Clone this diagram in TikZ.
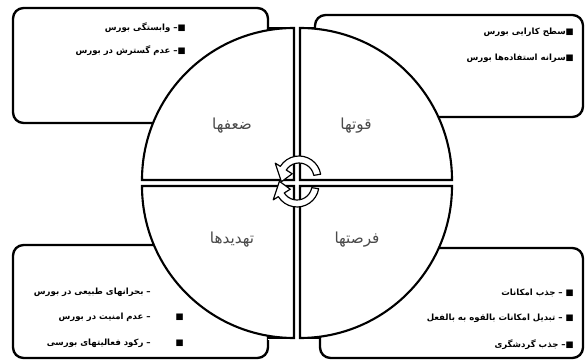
\documentclass[tikz,border=0pt]{standalone}
\usepackage{fontspec}
\usepackage{xcolor}
\TeXXeTstate=1
\newfontfamily\farsi[Script=Arabic]{DejaVu Sans}
\definecolor{labelgray}{HTML}{4a4a4a}

\begin{document}
\begin{tikzpicture}[x=0.03cm, y=0.03cm,
    box/.style={draw, line width=2pt, rounded corners=9},
    quad/.style={draw, fill=white, line width=1.8pt},
    quadlabel/.style={font=\farsi\fontsize{13}{15}\selectfont, text=labelgray, inner sep=0pt},
    item/.style={font=\farsi\bfseries\fontsize{7.3}{8}\selectfont, anchor=east, inner sep=0pt},
    cyc/.style={draw, fill=white, line width=1pt, line join=round}]
  \useasboundingbox (0,0) rectangle (585,362);

  % ---------------- the four boxes ----------------
  \draw[box] (13,239) rectangle (268,354);
  \draw[box] (315,245) rectangle (583,347);
  \draw[box] (13,4) rectangle (268,117);
  \draw[box] (320,4) rectangle (583,114);

  % white cover behind the circle
  \fill[white] (297,179) circle (155);
  \fill[white] (268,22) rectangle (318,334);
  \draw[line width=1.8pt] (268,334) -- (294,334) (300,334) -- (316,334);
  \draw[line width=1.8pt] (268,24) -- (294,24) (300,24) -- (321,24);

  % ---------------- quadrants ----------------
  \def\rq{152}
  \draw[quad] (294,182) -- ++(180:\rq) arc[start angle=180, end angle=90, radius=\rq] -- cycle;
  \draw[quad] (300,182) -- ++(0:\rq) arc[start angle=0, end angle=90, radius=\rq] -- cycle;
  \draw[quad] (294,176) -- ++(180:\rq) arc[start angle=180, end angle=270, radius=\rq] -- cycle;
  \draw[quad] (300,176) -- ++(0:\rq) arc[start angle=0, end angle=-90, radius=\rq] -- cycle;

  \node[quadlabel] (weak)   at (232,236) {\beginR ضعفها\endR};
  \node[quadlabel] (strong) at (356,236) {\beginR قوتها\endR};
  \node[quadlabel] (threat) at (232,122) {\beginR تهدیدها\endR};
  \node[quadlabel] (opport) at (357,122) {\beginR فرصتها\endR};

  % ---------------- cycle arrows ----------------
  \begin{scope}[shift={(299,184)}]
    \draw[cyc] (10:22) arc[start angle=10, end angle=148, radius=22]
      -- (148:28) -- (192:18) -- (148:8) -- (148:15)
      arc[start angle=148, end angle=10, radius=15] -- cycle;
  \end{scope}
  \begin{scope}[shift={(297,177)}]
    \draw[cyc] (-10:22) arc[start angle=-10, end angle=-148, radius=22]
      -- (-148:28) -- (-192:18) -- (-148:8) -- (-148:15)
      arc[start angle=-148, end angle=-10, radius=15] -- cycle;
  \end{scope}

  % ---------------- box texts ----------------
  \node[item] (w1) at (186,334) {\beginR ■– وابستگی بورس\endR};
  \node[item] (w2) at (186,311) {\beginR ■– عدم گسترش در بورس\endR};

  \node[item] (s1) at (574,330) {\beginR ■سطح کارایی بورس\endR};
  \node[item] (s2) at (574,304) {\beginR ■سرانه استفاده‌ها بورس\endR};

  \node[item] (t1) at (151,70) {\beginR – بحرانهای طبیعی در بورس\endR};
  \node[item] (t2) at (151,45) {\beginR – عدم امنیت در بورس\endR};
  \node[item] (t3) at (151,19) {\beginR – رکود فعالیتهای بورسی\endR};
  \node[item] (b2) at (184,45) {■};
  \node[item] (b3) at (184,19) {■};

  \node[item] (o1) at (574,69) {\beginR ■ – جذب امکانات\endR};
  \node[item] (o2) at (574,44) {\beginR ■ – تبدیل امکانات بالقوه به بالفعل\endR};
  \node[item] (o3) at (574,17) {\beginR ■– جذب گردشگری\endR};
\end{tikzpicture}
\end{document}
